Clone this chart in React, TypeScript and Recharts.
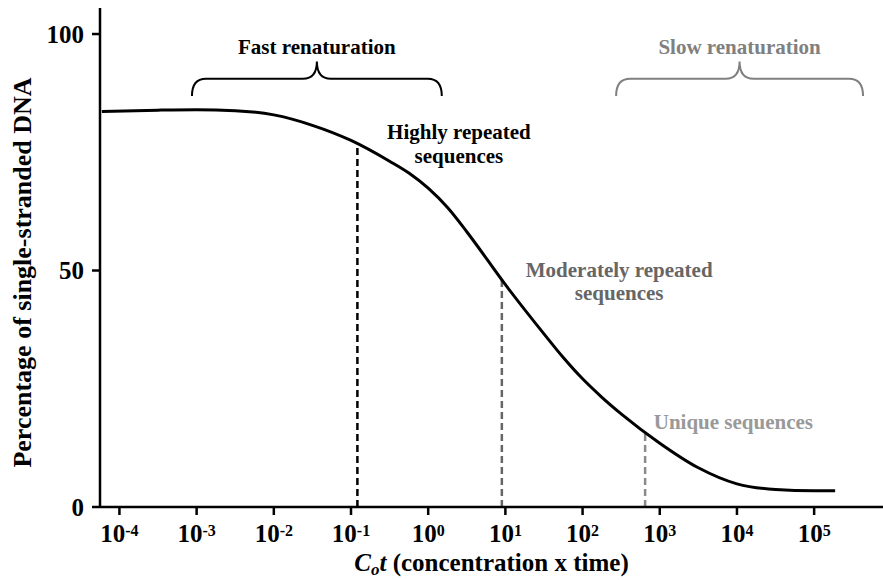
import React from 'react';
import { ComposedChart, Line, XAxis, YAxis, ReferenceLine, ReferenceArea, ReferenceDot } from 'recharts';

// Cot values (M·s) and percentage of single-stranded DNA along the curve
const cotValues = [5.92e-5, 3.16e-4, 1e-3, 3.16e-3, 1e-2, 3.16e-2, 0.1, 0.316, 0.562, 1, 1.78, 3.16, 10, 31.6, 56.2, 100, 178, 316, 1000, 3160, 10000, 31600, 100000, 187000];
const singleStrandedPct = [83.6, 83.9, 84.0, 83.8, 82.9, 80.7, 77.5, 73.1, 70.6, 67.4, 63.3, 58.2, 47.0, 36.6, 31.6, 27.1, 23.2, 19.7, 13.5, 8.3, 4.9, 3.7, 3.45, 3.45];

// Axis ticks
const xTicks = [1e-4, 1e-3, 1e-2, 1e-1, 1e0, 1e1, 1e2, 1e3, 1e4, 1e5];
const xTickExponents = ['-4', '-3', '-2', '-1', '0', '1', '2', '3', '4', '5'];
const yTicks = [0, 50, 100];

// Dashed markers (Cot, % at curve)
const markerCot = [0.121, 9.0, 646];
const markerPct = [76.8, 48.2, 15.8];
const markerColors = ['#000000', '#666666', '#8a8a8a'];

// Braces (renaturation ranges)
const braceLabels = ['Fast renaturation', 'Slow renaturation'];
const braceFrom = [8.7e-4, 272];
const braceTo = [1.5, 4.3e5];
const braceLow = [86.9, 86.9];
const braceHigh = [94.2, 94.2];
const braceColors = ['#000000', '#808080'];

// Annotations
const noteLines = [['Highly repeated', 'sequences'], ['Moderately repeated', 'sequences'], ['Unique sequences']];
const noteCot = [2.5, 298, 8990];
const notePct = [77.8, 48.7, 16.4];
const noteColors = ['#000000', '#666666', '#999999'];

const FONT = '"Liberation Serif", "Times New Roman", serif';

const data = cotValues.map((c, i) => ({ cot: c, pct: singleStrandedPct[i] }));

const XTick = (props: any) => {
  const { x, y, payload } = props;
  const idx = xTicks.indexOf(payload.value);
  return (
    <text x={x} y={y + 25} textAnchor="middle" fontFamily={FONT} fontWeight="bold" fontSize={25} fill="#000">
      10
      <tspan fontSize={16} dy={-6}>{xTickExponents[idx]}</tspan>
    </text>
  );
};

const XTitle = (props: any) => {
  const vb = props.viewBox;
  const cx = vb.x + vb.width / 2;
  return (
    <text x={cx} y={vb.y + vb.height - 9} textAnchor="middle" fontFamily={FONT} fontWeight="bold" fontSize={25} fill="#000">
      <tspan fontStyle="italic">C</tspan>
      <tspan fontStyle="italic" fontSize={17} dy={4}>o</tspan>
      <tspan fontStyle="italic" dy={-4}>t</tspan>
      <tspan> (concentration x time)</tspan>
    </text>
  );
};

const YTitle = (props: any) => {
  const vb = props.viewBox;
  const cx = 22;
  const cy = vb.y + vb.height / 2 + 15;
  return (
    <text x={cx} y={cy} transform={`rotate(-90, ${cx}, ${cy})`} textAnchor="middle" dominantBaseline="central" fontFamily={FONT} fontWeight="bold" fontSize={26} fill="#000">
      Percentage of single-stranded DNA
    </text>
  );
};

const makeBrace = (label: string, color: string) => (props: any) => {
  const { x, y, width, height } = props;
  const x2 = x + width;
  const yb = y + height;
  const yh = y + height * 0.5;
  const cx = x + width / 2;
  const r = 14;
  const d = `M ${x} ${yb} Q ${x} ${yh} ${x + r} ${yh} L ${cx - r} ${yh} Q ${cx} ${yh} ${cx} ${y} Q ${cx} ${yh} ${cx + r} ${yh} L ${x2 - r} ${yh} Q ${x2} ${yh} ${x2} ${yb}`;
  return (
    <g>
      <path d={d} fill="none" stroke={color} strokeWidth={2} />
      <text x={cx} y={y - 7} textAnchor="middle" fontFamily={FONT} fontWeight="bold" fontSize={21} fill={color}>
        {label}
      </text>
    </g>
  );
};

const makeNote = (lines: string[], color: string) => (props: any) => {
  const { cx, cy } = props;
  return (
    <text x={cx} y={cy} textAnchor="middle" fontFamily={FONT} fontWeight="bold" fontSize={21} fill={color}>
      {lines.map((l, i) => (
        <tspan key={i} x={cx} dy={i === 0 ? 0 : 23.5}>{l}</tspan>
      ))}
    </text>
  );
};

export default function App() {
  return (
    <div style={{ position: 'absolute', left: 0, top: 0, width: 883, height: 580, background: '#fff' }}>
      <ComposedChart width={883} height={580} data={data} margin={{ top: 8, right: 0, left: 0, bottom: 0 }}>
        <XAxis
          type="number"
          dataKey="cot"
          scale="log"
          domain={[5.6e-5, 7.8e5]}
          ticks={xTicks}
          allowDataOverflow
          height={73}
          axisLine={{ stroke: '#000', strokeWidth: 2.5 }}
          tickLine={{ stroke: '#000', strokeWidth: 2.5 }}
          tickSize={8}
          tickMargin={2}
          tick={<XTick />}
          label={{ content: <XTitle /> } as any}
        />
        <YAxis
          type="number"
          domain={[0, 105.5]}
          ticks={yTicks}
          allowDataOverflow
          width={100}
          axisLine={{ stroke: '#000', strokeWidth: 2.5 }}
          tickLine={{ stroke: '#000', strokeWidth: 2.5 }}
          tickSize={8}
          tickMargin={8}
          tick={{ fill: '#000', fontSize: 25, fontWeight: 'bold', fontFamily: FONT }}
          label={{ content: <YTitle /> } as any}
        />
        {markerCot.map((c, i) => (
          <ReferenceLine
            key={`m${i}`}
            segment={[{ x: c, y: 0 }, { x: c, y: markerPct[i] }]}
            stroke={markerColors[i]}
            strokeWidth={2.5}
            strokeDasharray="7 4"
          />
        ))}
        {braceLabels.map((l, i) => (
          <ReferenceArea
            key={`b${i}`}
            x1={braceFrom[i]}
            x2={braceTo[i]}
            y1={braceLow[i]}
            y2={braceHigh[i]}
            shape={makeBrace(l, braceColors[i])}
          />
        ))}
        {noteLines.map((lines, i) => (
          <ReferenceDot key={`n${i}`} x={noteCot[i]} y={notePct[i]} r={0} shape={makeNote(lines, noteColors[i])} />
        ))}
        <Line
          type="monotone"
          dataKey="pct"
          stroke="#000"
          strokeWidth={3}
          dot={false}
          activeDot={false}
          isAnimationActive={false}
        />
      </ComposedChart>
    </div>
  );
}
